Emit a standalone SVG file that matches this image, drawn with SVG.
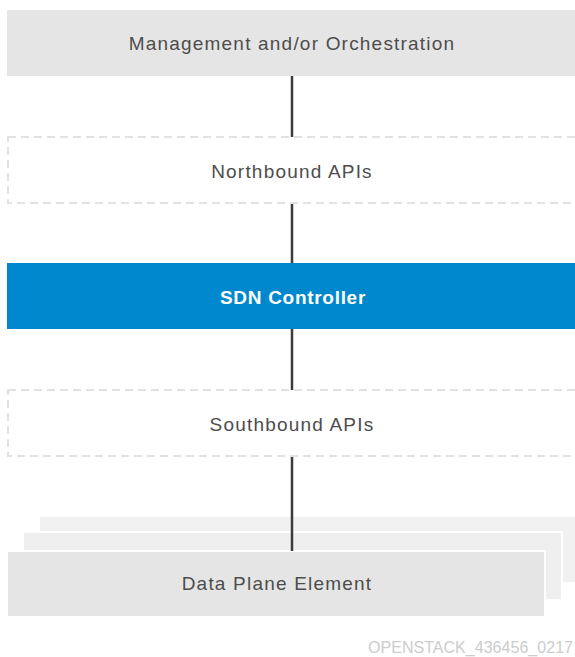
<svg xmlns="http://www.w3.org/2000/svg" width="575" height="657" viewBox="0 0 575 657">
<style>
.lbl{font-family:"Liberation Sans",Arial,sans-serif;font-size:19px;fill:#4d4d4d;text-anchor:middle;dominant-baseline:central;letter-spacing:1.2px}
.gray{fill:#e5e5e5}
.dash{fill:#ffffff;stroke:#e2e2e2;stroke-width:2;stroke-dasharray:8 5}
.conn{stroke:#3c3c3c;stroke-width:2.5;fill:none}
</style>
<rect width="575" height="657" fill="#ffffff"/>
<g id="connectors">
<line class="conn" x1="292" y1="76" x2="292" y2="551"/>
</g>
<g id="management">
<rect class="gray" x="7" y="10" width="570" height="66"/>
<text class="lbl" x="292" y="43">Management and/or Orchestration</text>
</g>
<g id="northbound">
<rect class="dash" x="8" y="137" width="580" height="66"/>
<text class="lbl" x="292" y="171">Northbound APIs</text>
</g>
<g id="sdn-controller">
<rect x="7" y="263" width="570" height="66" fill="#0088ce"/>
<text class="lbl" x="293" y="297" style="fill:#ffffff;font-weight:bold;letter-spacing:0.7px">SDN Controller</text>
</g>
<g id="southbound">
<rect class="dash" x="8" y="390" width="580" height="66"/>
<text class="lbl" x="292" y="424">Southbound APIs</text>
</g>
<g id="data-plane">
<rect x="40" y="517" width="540" height="65" fill="#f1f1f1"/>
<rect x="23" y="532" width="539" height="68" fill="#efefef" stroke="#ffffff" stroke-width="2"/>
<rect x="7" y="551" width="538" height="66" fill="#e5e5e5" stroke="#ffffff" stroke-width="2"/>
<line class="conn" x1="292" y1="517" x2="292" y2="551"/>
<text class="lbl" x="277" y="583">Data Plane Element</text>
</g>
<text x="368" y="653" textLength="205" lengthAdjust="spacing" style="font-family:'Liberation Sans',Arial,sans-serif;font-size:16px;fill:#cccccc">OPENSTACK_436456_0217</text>
</svg>
